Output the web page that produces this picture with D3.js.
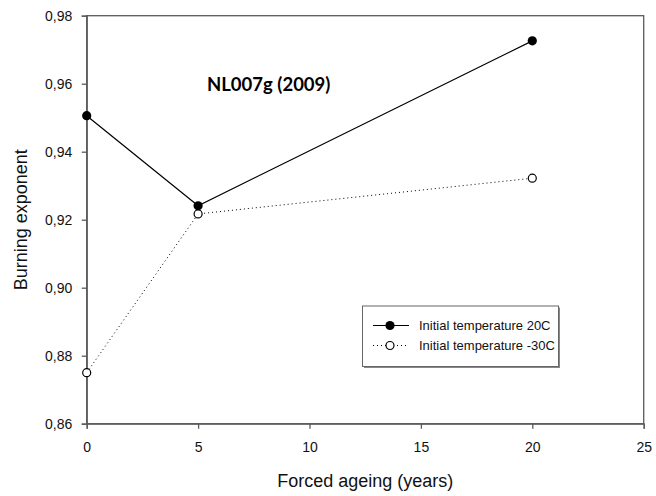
<!DOCTYPE html>
<html><head><meta charset="utf-8">
<script src="https://cdn.jsdelivr.net/npm/d3@7"></script>
<style>body{margin:0;background:#fff}svg{display:block}</style>
</head><body>
<svg id="c" width="656" height="496"></svg>
<script>
const years = [0, 5, 20];
const temp20 = [0.9506, 0.9241, 0.9726];
const tempMinus30 = [0.875, 0.9217, 0.9322];
const xTicks = [0, 5, 10, 15, 20, 25];
const yTicks = [0.86, 0.88, 0.90, 0.92, 0.94, 0.96, 0.98];
const seriesNames = ["Initial temperature 20C", "Initial temperature -30C"];
const title = "NL007g (2009)";

const svg = d3.select("#c");
const m = {l: 86.7, r: 643.7, t: 15.7, b: 423.7};
const x = d3.scaleLinear().domain([0, 25]).range([m.l, m.r]);
const y = d3.scaleLinear().domain([0.86, 0.98]).range([m.b, m.t]);
const fmt = d => d3.format(".2f")(d).replace(".", ",");
const axisCol = "#5a5a5a";
const font = "Liberation Sans, Arial, sans-serif";

// frame
svg.append("rect").attr("x", m.l).attr("y", m.t).attr("width", m.r - m.l).attr("height", m.b - m.t)
  .attr("fill", "none").attr("stroke", axisCol).attr("stroke-width", 1.3);

const ax = svg.append("g").attr("transform", `translate(0,${m.b})`)
  .call(d3.axisBottom(x).tickValues(xTicks).tickSize(5).tickPadding(13));
const ay = svg.append("g").attr("transform", `translate(${m.l},0)`)
  .call(d3.axisLeft(y).tickValues(yTicks).tickSize(5).tickPadding(9.4).tickFormat(fmt));
[ax, ay].forEach(g => {
  g.select(".domain").attr("stroke", axisCol).attr("stroke-width", 1.3);
  g.selectAll(".tick line").attr("stroke", axisCol).attr("stroke-width", 1.3);
  g.selectAll("text").attr("font-family", font).attr("font-size", 14).attr("fill", "#111");
});

// axis titles
svg.append("text").attr("x", (m.l + m.r) / 2).attr("y", 486.7).attr("text-anchor", "middle")
  .attr("font-family", font).attr("font-size", 18).attr("fill", "#111")
  .text("Forced ageing (years)");
svg.append("text").attr("transform", `translate(27,${(m.t + m.b) / 2}) rotate(-90)`).attr("text-anchor", "middle")
  .attr("font-family", font).attr("font-size", 18).attr("fill", "#111")
  .text("Burning exponent");

// title
svg.append("text").attr("x", 207).attr("y", 90.7).attr("font-family", "Lato, Open Sans, sans-serif")
  .attr("font-weight", "bold").attr("font-size", 18.5).attr("fill", "#000").text(title);

const line = d3.line().x(d => x(d[0])).y(d => y(d[1]));
const d20 = years.map((v, i) => [v, temp20[i]]);
const d30 = years.map((v, i) => [v, tempMinus30[i]]);

svg.append("path").datum(d30).attr("d", line).attr("fill", "none").attr("stroke", "#000")
  .attr("stroke-width", 1).attr("stroke-dasharray", "1,3");
svg.append("path").datum(d20).attr("d", line).attr("fill", "none").attr("stroke", "#000").attr("stroke-width", 1.2);

svg.selectAll(".p20").data(d20).enter().append("circle").attr("cx", d => x(d[0])).attr("cy", d => y(d[1]))
  .attr("r", 4.6).attr("fill", "#000");
svg.selectAll(".p30").data(d30).enter().append("circle").attr("cx", d => x(d[0])).attr("cy", d => y(d[1]))
  .attr("r", 4).attr("fill", "#fff").attr("stroke", "#000").attr("stroke-width", 1.2);

// legend
const lg = svg.append("g");
const lx = 362.5, ly = 306, lw = 196, lh = 60.5;
lg.append("rect").attr("x", lx + 1.5).attr("y", ly + 1.5).attr("width", lw).attr("height", lh).attr("fill", "#888");
lg.append("rect").attr("x", lx).attr("y", ly).attr("width", lw).attr("height", lh).attr("fill", "#fff")
  .attr("stroke", "#666").attr("stroke-width", 1);
const rows = [{name: seriesNames[0], y: 325.5, filled: true}, {name: seriesNames[1], y: 345.5, filled: false}];
rows.forEach(r => {
  lg.append("line").attr("x1", 373).attr("x2", 409).attr("y1", r.y).attr("y2", r.y).attr("stroke", "#000")
    .attr("stroke-width", r.filled ? 1.2 : 1).attr("stroke-dasharray", r.filled ? null : "1,3");
  lg.append("circle").attr("cx", 390).attr("cy", r.y).attr("r", r.filled ? 4.6 : 4)
    .attr("fill", r.filled ? "#000" : "#fff").attr("stroke", "#000").attr("stroke-width", r.filled ? 0 : 1.2);
  lg.append("text").attr("x", 419).attr("y", r.y + 4.5).attr("font-family", font)
    .attr("font-size", 13).attr("fill", "#111").text(r.name);
});
</script>
</body></html>
